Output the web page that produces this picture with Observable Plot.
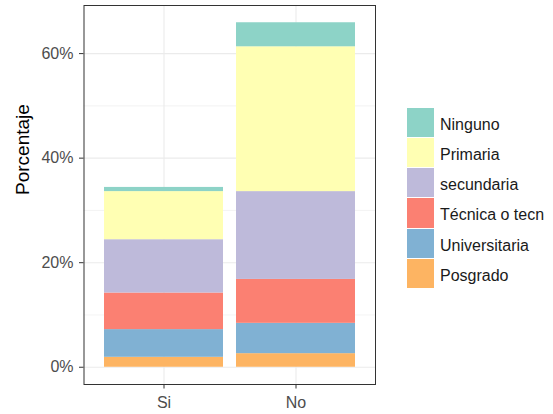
<!DOCTYPE html>
<html>
<head>
<meta charset="utf-8">
<script src="https://cdn.jsdelivr.net/npm/d3@7"></script>
<script src="https://cdn.jsdelivr.net/npm/@observablehq/plot@0.6"></script>
<style>
  body { margin: 0; background: white; }
  #wrap { position: relative; width: 553px; height: 414px; font-family: "Liberation Sans", Arial, sans-serif; }
  #legend { position: absolute; left: 406.5px; top: 107px; }
  .row { position: relative; height: 30.3px; }
  .key { position: absolute; left: 0; top: 0.5px; width: 27.5px; height: 29.3px; }
  .lab { position: absolute; left: 33.5px; top: 2.5px; line-height: 30.3px; font-size: 16px; color: #1a1a1a; white-space: nowrap; }
</style>
</head>
<body>
<div id="wrap"><div id="chart"></div><div id="legend"></div></div>
<script>
const categories = ["Si", "No"];
const levels = ["Posgrado", "Universitaria", "Técnica o tecn", "secundaria", "Primaria", "Ninguno"];
const legendOrder = ["Ninguno", "Primaria", "secundaria", "Técnica o tecn", "Universitaria", "Posgrado"];
const colors = ["#FDB462", "#80B1D3", "#FB8072", "#BEBADA", "#FFFFB3", "#8DD3C7"];
const siValues = [1.9, 5.3, 7.0, 10.2, 9.2, 0.8];
const noValues = [2.6, 5.8, 8.4, 16.8, 27.7, 4.6];
const majorTicks = [0, 20, 40, 60];
const minorTicks = [10, 30, 50];

const data = [];
levels.forEach((lv, i) => data.push({cat: "Si", level: lv, value: siValues[i]}));
levels.forEach((lv, i) => data.push({cat: "No", level: lv, value: noValues[i]}));

const plot = Plot.plot({
  width: 553, height: 414,
  marginLeft: 83.5, marginRight: 178, marginTop: 5, marginBottom: 30,
  style: {fontFamily: '"Liberation Sans", Arial, sans-serif', background: "white"},
  x: {domain: categories, paddingInner: 0.1, paddingOuter: 0.15, label: null},
  y: {domain: [-3.3, 69.2], label: null},
  color: {domain: levels, range: colors},
  marks: [
    Plot.ruleY(minorTicks, {stroke: "#EBEBEB", strokeWidth: 0.6}),
    Plot.ruleY(majorTicks, {stroke: "#EBEBEB", strokeWidth: 1.1}),
    Plot.ruleX(categories, {x: d => d, stroke: "#EBEBEB", strokeWidth: 1.1}),
    Plot.barY(data, {x: "cat", y: "value", fill: "level"}),
    Plot.frame({stroke: "#333333"}),
    Plot.axisY({ticks: majorTicks, tickFormat: d => d + "%", tickSize: 4.5, tickPadding: 6, fontSize: 16, fill: "#4D4D4D", stroke: "#333333", label: null}),
    Plot.axisX({tickSize: 4.5, tickPadding: 8, fontSize: 16, fill: "#4D4D4D", stroke: "#333333", label: null}),
    Plot.text(["Porcentaje"], {frameAnchor: "left", dx: -61, rotate: -90, fontSize: 19, fill: "black"})
  ]
});
document.getElementById("chart").appendChild(plot);

const leg = document.getElementById("legend");
legendOrder.forEach(lv => {
  const row = document.createElement("div");
  row.className = "row";
  const key = document.createElement("div");
  key.className = "key";
  key.style.background = colors[levels.indexOf(lv)];
  const lab = document.createElement("div");
  lab.className = "lab";
  lab.textContent = lv;
  row.appendChild(key); row.appendChild(lab);
  leg.appendChild(row);
});
</script>
</body>
</html>
